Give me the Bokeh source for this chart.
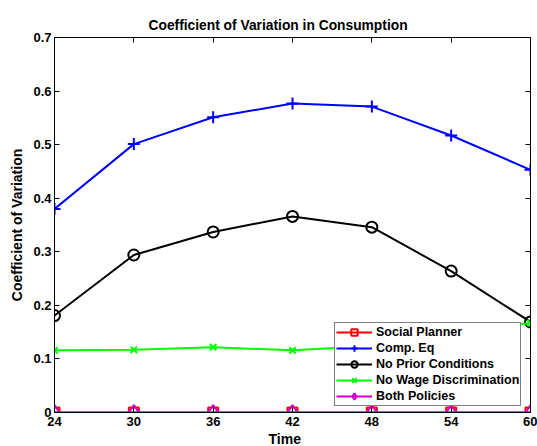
from bokeh.plotting import figure
from bokeh.models import Range1d, LinearAxis, Legend, LegendItem, FixedTicker, Title
from bokeh.embed import file_html
from bokeh.resources import INLINE

# ---- data ----
time = [24, 30, 36, 42, 48, 54, 60]
social_planner = [0, 0, 0, 0, 0, 0, 0]
comp_eq = [0.380, 0.501, 0.551, 0.577, 0.571, 0.517, 0.453]
no_prior = [0.181, 0.294, 0.337, 0.366, 0.346, 0.264, 0.169]
no_wage_disc = [0.116, 0.117, 0.122, 0.116, 0.124, 0.150, 0.167]
both_policies = [0, 0, 0, 0, 0, 0, 0]
x_ticks = [24, 30, 36, 42, 48, 54, 60]
y_ticks = [0, 0.1, 0.2, 0.3, 0.4, 0.5, 0.6, 0.7]

FONT = "Liberation Sans"

p = figure(width=537, height=446, output_backend="svg", toolbar_location=None,
           x_range=Range1d(24, 60), y_range=Range1d(0, 0.7),
           min_border_left=54, min_border_right=7, min_border_top=37, min_border_bottom=34)

p.title.text = "Coefficient of Variation in Consumption"
p.title.align = "left"
p.title.offset = 94
p.title.text_font = FONT
p.title.text_font_size = "13.8px"
p.title.text_font_style = "bold"
p.title.text_color = "black"

p.grid.visible = False
p.outline_line_color = "black"
p.outline_line_width = 1
p.outline_line_alpha = 1

def style_axis(ax, labels=True):
    ax.axis_line_color = "black"
    ax.major_tick_in = 5
    ax.major_tick_out = 0
    ax.minor_tick_line_color = None
    ax.major_tick_line_color = "black"
    ax.major_label_text_font = FONT
    ax.major_label_text_font_style = "bold"
    ax.axis_label_text_font = FONT
    ax.axis_label_text_font_style = "bold"
    ax.axis_label_text_font_size = "14px"
    ax.axis_label_text_color = "black"
    if labels:
        ax.major_label_text_font_size = "13px"
        ax.major_label_text_color = "black"
    else:
        ax.major_label_text_font_size = "1px"
        ax.major_label_text_color = None
        ax.major_label_standoff = 0

xa = p.xaxis[0]
ya = p.yaxis[0]
xa.ticker = FixedTicker(ticks=x_ticks)
ya.ticker = FixedTicker(ticks=y_ticks)
style_axis(xa)
style_axis(ya)
xa.major_label_standoff = 4
ya.axis_label = "Coefficient of Variation"
ya.major_label_standoff = 3
ya.axis_label_standoff = 5
ya.major_label_overrides = {0: "0", 0.1: "0.1", 0.2: "0.2", 0.3: "0.3", 0.4: "0.4",
                            0.5: "0.5", 0.6: "0.6", 0.7: "0.7"}

xlabel = Title(text="Time", align="left", offset=214, standoff=0,
               text_font=FONT, text_font_size="14px", text_font_style="bold",
               text_color="black")
p.add_layout(xlabel, "below")

top = LinearAxis(ticker=FixedTicker(ticks=x_ticks))
style_axis(top, labels=False)
p.add_layout(top, "above")
right = LinearAxis(ticker=FixedTicker(ticks=y_ticks))
style_axis(right, labels=False)
p.add_layout(right, "right")

series = [
    ("Social Planner", social_planner, "#ff0000", "square", 10),
    ("Comp. Eq", comp_eq, "#0000ff", "cross", 12),
    ("No Prior Conditions", no_prior, "black", "circle", 11),
    ("No Wage Discrimination", no_wage_disc, "#00ff00", "x", 9),
    ("Both Policies", both_policies, "#cc00cc", "diamond", 15),
]

items = []
for name, ys, col, marker, size in series:
    ln = p.line(time, ys, line_color=col, line_width=2)
    sc = p.scatter(time, ys, marker=marker, size=size, line_color=col,
                   fill_color=None, line_width=2)
    items.append(LegendItem(label=name, renderers=[ln, sc]))

legend = Legend(items=items, location=(280, 6))
legend.margin = 0
legend.padding = 1
legend.spacing = 0
legend.glyph_width = 36
legend.glyph_height = 16
legend.label_height = 16
legend.label_standoff = 4
legend.label_text_font = FONT
legend.label_text_font_style = "bold"
legend.label_text_font_size = "12.5px"
legend.label_text_color = "black"
legend.border_line_color = "black"
legend.border_line_width = 1
legend.background_fill_color = "white"
legend.background_fill_alpha = 1
p.add_layout(legend, "center")

open("out.html", "w").write(file_html(p, INLINE))
